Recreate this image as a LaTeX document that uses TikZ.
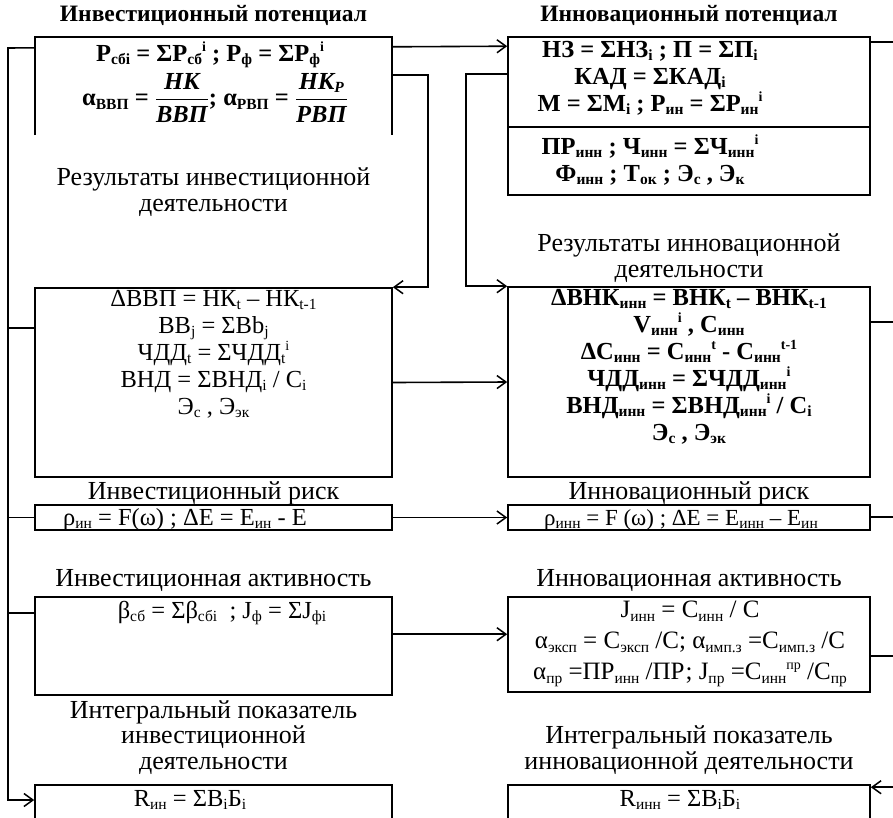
\documentclass[tikz,border=0pt]{standalone}
\usepackage{amsmath}
\usepackage{fontspec}
\setmainfont{Liberation Serif}
\usetikzlibrary{arrows.meta}

\newcommand{\sbs}[1]{\raisebox{-0.3ex}{\fontsize{15.5}{15.5}\selectfont #1}}
\newcommand{\sps}[1]{\raisebox{0.9ex}{\fontsize{14}{14}\selectfont #1}}

\tikzset{
    txt/.style={align=center,inner sep=0pt,font=\fontsize{24.5}{27}\selectfont},
    ttl/.style={align=center,inner sep=0pt,font=\fontsize{26}{25.5}\selectfont},
    hdr/.style={align=center,inner sep=0pt,font=\fontsize{23.5}{27}\selectfont\bfseries},
    box/.style={draw,line width=1.6pt,inner sep=0pt},
    line/.style={line width=1.6pt,>={Straight Barb[length=9pt,width=13pt,line width=1.5pt]}},
}

\begin{document}
\begin{tikzpicture}[x=1pt,y=-1pt]
                \useasboundingbox (0,0) rectangle (893,817);
                \coordinate (busL) at (8,0);
                \coordinate (busR) at (893,0);

                % left column
                \node[hdr] (tIpot) at (213.5,15) {Инвестиционный потенциал};
                \node[inner sep=0pt,minimum width=357pt,minimum height=98pt] (ipot) at (213.5,86) {};
                \draw[box] (ipot.south west) -- (ipot.north west) -- (ipot.north east) -- (ipot.south east);
                \node[txt] (ipotA) at (210,55) {\bfseries Р\sbs{сбi} = ΣР\sbs{сб}\sps{i} ; Р\sbs{ф} = ΣР\sbs{ф}\sps{i}};
                \node[txt] (ipotB) at (215,98) {\bfseries α\sbs{ВВП} = $\dfrac{\mbox{\itshape НК}}{\mbox{\itshape ВВП}}$; α\sbs{РВП} = $\dfrac{\mbox{\itshape НК\sbs{Р}}}{\mbox{\itshape РВП}}$};
                \node[ttl] (tIres) at (213.5,192) {Результаты инвестиционной\\деятельности};
                \node[box,minimum width=357pt,minimum height=189pt] (ires) at (213.5,382.5) {};
                \node[txt,anchor=north] (iresT) at (213.5,290) {ΔВВП = НК\sbs{t} – НК\sbs{t-1}\\ВВ\sbs{j} = ΣВb\sbs{j}\\ЧДД\sbs{t} = ΣЧДД\sbs{t}\sps{i}\\ВНД = ΣВНД\sbs{i} / C\sbs{i}\\Э\sbs{с} , Э\sbs{эк}};
                \node[ttl] (tIrisk) at (213.5,493) {Инвестиционный риск};
                \node[box,minimum width=357pt,minimum height=25pt] (irisk) at (213.5,517.5) {};
                \node[txt] (iriskT) at (185,519.5) {ρ\sbs{ин} = F(ω) ; ΔE = E\sbs{ин} - E};
                \node[ttl] (tIact) at (213.5,580) {Инвестиционная активность};
                \node[box,minimum width=357pt,minimum height=98pt] (iact) at (213.5,646) {};
                \node[txt,anchor=north] (iactT) at (222,601) {β\sbs{сб} = Σβ\sbs{сбi}~ ; J\sbs{ф} = ΣJ\sbs{фi}};
                \node[ttl] (tIint) at (213.5,737.5) {Интегральный показатель\\инвестиционной\\деятельности};
                \node[box,minimum width=357pt,minimum height=60pt] (iint) at (213.5,815) {};
                \node[txt] (iintT) at (190,800) {R\sbs{ин} = ΣB\sbs{i}Б\sbs{i}};

                % right column
                \node[hdr] (tNpot) at (689,15) {Инновационный потенциал};
                \node[box,minimum width=362pt,minimum height=158pt] (npot) at (689,116) {};
                \draw[box] ([yshift=-91pt]npot.north west) -- ([yshift=-91pt]npot.north east);
                \node[txt,anchor=north] (npotA) at (650,41) {\bfseries НЗ = ΣНЗ\sbs{i} ; П = ΣП\sbs{i}\\\bfseries КАД = ΣКАД\sbs{i}\\\bfseries М = ΣМ\sbs{i} ; Р\sbs{ин} = ΣР\sbs{ин}\sps{i}};
                \node[txt] (npotB) at (650,160) {\bfseries ПР\sbs{инн} ; Ч\sbs{инн} = ΣЧ\sbs{инн}\sps{i}\\\bfseries Ф\sbs{инн} ; Т\sbs{ок} ; Э\sbs{с} , Э\sbs{к}};
                \node[ttl] (tNres) at (689,258) {Результаты инновационной\\деятельности};
                \node[box,minimum width=362pt,minimum height=190pt] (nres) at (689,382) {};
                \node[txt,anchor=north] (nresT) at (689,289) {\bfseries ΔВНК\sbs{инн} = ВНК\sbs{t} – ВНК\sbs{t-1}\\\bfseries V\sbs{инн}\sps{i} , C\sbs{инн}\\\bfseries ΔC\sbs{инн} = C\sbs{инн}\sps{t} - C\sbs{инн}\sps{t-1}\\\bfseries ЧДД\sbs{инн} = ΣЧДД\sbs{инн}\sps{i}\\\bfseries ВНД\sbs{инн} = ΣВНД\sbs{инн}\sps{i} / C\sbs{i}\\\bfseries Э\sbs{с} , Э\sbs{эк}};
                \node[ttl] (tNrisk) at (689,493) {Инновационный риск};
                \node[box,minimum width=362pt,minimum height=25pt] (nrisk) at (689,517.5) {};
                \node[txt,font=\fontsize{23}{27}\selectfont] (nriskT) at (681,519.5) {ρ\sbs{инн} = F (ω) ; ΔE = E\sbs{инн} – E\sbs{ин}};
                \node[ttl] (tNact) at (689,580) {Инновационная активность};
                \node[box,minimum width=362pt,minimum height=95pt] (nact) at (689,644.5) {};
                \node[txt,anchor=north,font=\fontsize{25}{31}\selectfont] (nactT) at (690,601) {J\sbs{инн} = C\sbs{инн} / C\\α\sbs{эксп} = C\sbs{эксп} /C; α\sbs{имп.з} =C\sbs{имп.з} /C\\α\sbs{пр} =ПР\sbs{инн} /ПР; J\sbs{пр} =C\sbs{инн}\sps{пр} /C\sbs{пр}};
                \node[ttl] (tNint) at (689,750) {Интегральный показатель\\инновационной деятельности};
                \node[box,minimum width=362pt,minimum height=60pt] (nint) at (689,815) {};
                \node[txt] (nintT) at (680,800) {R\sbs{инн} = ΣB\sbs{i}Б\sbs{i}};
                \coordinate (nintIn) at ([yshift=-3pt]nint.north east);

                % connectors
                \draw[line,->] ([yshift=-11pt]ipot.north west) -- (busL |- 0,48) -- (busL |- iintT) -- (iint.west |- iintT);
                \foreach \y in {328,517.5,613} \draw[line] (busL |- 0,\y) -- (ires.west |- 0,\y);
                \draw[line,->] ([yshift=-10pt]ipot.north east) -- ([yshift=-10pt]npot.north west);
                \draw[line,->] ([yshift=-38pt]ipot.north east) -- ++(36,0) |- (ires.north east);
                \draw[line,->] ([yshift=-38pt]npot.north west) -- ++(-41,0) |- (nres.north west);
                \draw[line,->] (ires.east) -- (nres.west);
                \draw[line,->] (irisk.east) -- (nrisk.west);
                \draw[line,->] ([yshift=-38pt]iact.north east) -- ([yshift=-38pt]nact.north west);
                \foreach \n/\dy in {npot/6,nres/36,nrisk/12.5,nact/60} \draw[line] ([yshift=-\dy pt]\n.north east) -- ++(30,0);
                \draw[line,->] (busR |- nintIn) -- (nintIn);
            \end{tikzpicture}
\end{document}
